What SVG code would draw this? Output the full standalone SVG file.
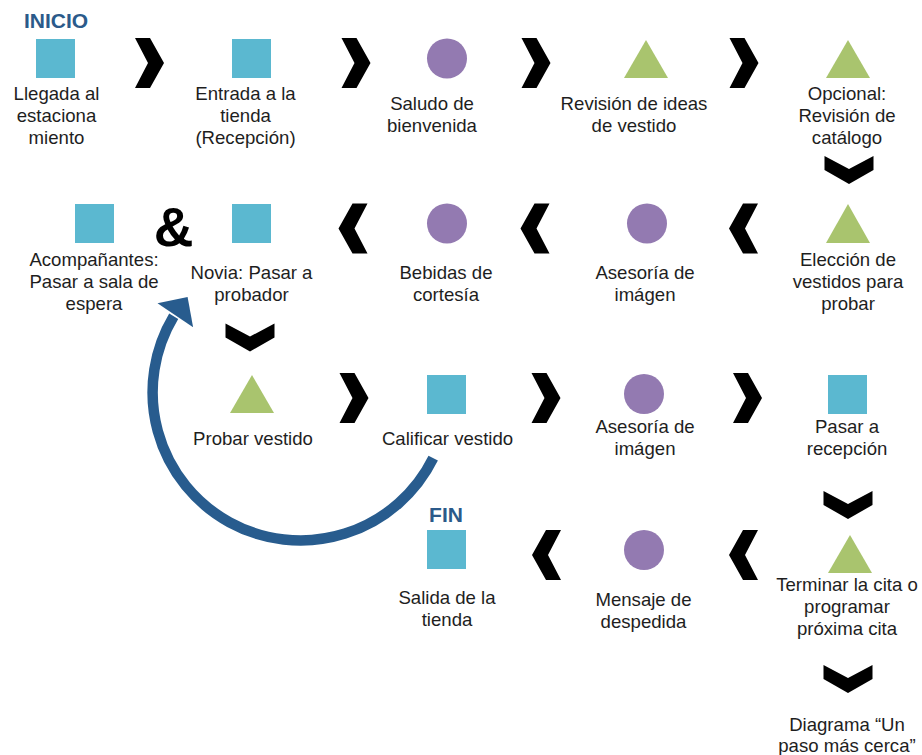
<svg xmlns="http://www.w3.org/2000/svg" width="922" height="755" viewBox="0 0 922 755">
<defs>
<style>
.t{font-family:"Liberation Sans",Arial,sans-serif;font-size:18.6px;fill:#1e1e1e;text-anchor:middle}
.h{font-family:"Liberation Sans",Arial,sans-serif;font-size:21px;font-weight:bold;fill:#2b5a8a;text-anchor:middle}
.sq{fill:#5bb8d0}
.ci{fill:#937ab1}
.tr{fill:#a9c46e}
.ch{fill:#000}
</style>
<polygon id="cr" points="-14.5,-25 0.5,-25 14.5,0 0.5,25 -14.5,25 -1.5,0"/>
<polygon id="cl" points="14.5,-25 -0.5,-25 -14.5,0 -0.5,25 14.5,25 1.5,0"/>
<polygon id="cd" points="-24.5,-14 0,-1 24.5,-14 24.5,0 0,14 -24.5,0"/>
</defs>
<rect width="922" height="755" fill="#fff"/>

<g id="connectors">
<g class="ch">
<use href="#cr" x="149.5" y="63"/>
<use href="#cr" x="356" y="63"/>
<use href="#cr" x="536" y="63"/>
<use href="#cr" x="744" y="63"/>
<use href="#cd" x="849" y="170"/>
<use href="#cl" x="353" y="228.5"/>
<use href="#cl" x="535" y="228.5"/>
<use href="#cl" x="743.5" y="228.5"/>
<use href="#cd" x="250" y="337.5"/>
<use href="#cr" x="354" y="398"/>
<use href="#cr" x="546" y="398"/>
<use href="#cr" x="747.5" y="398"/>
<use href="#cd" x="848" y="505"/>
<use href="#cl" x="546.5" y="555"/>
<use href="#cl" x="743.5" y="555"/>
<use href="#cd" x="848" y="679"/>
</g>
<g id="loop">
<path d="M433.2,458.2 A148,148 0 1 1 173.7,316.3" fill="none" stroke="#285c8e" stroke-width="10.5"/>
<polygon points="187.6,297 157.5,303.2 193.1,327.2" fill="#285c8e"/>
</g>
</g>

<text class="h" x="56" y="28">INICIO</text>

<g id="n1"><rect class="sq" x="36" y="39" width="39" height="39"/>
<text class="t"><tspan x="56.5" y="100">Llegada al</tspan><tspan x="56.5" y="122">estaciona</tspan><tspan x="56.5" y="144">miento</tspan></text></g>

<g id="n2"><rect class="sq" x="232" y="39" width="39" height="39"/>
<text class="t"><tspan x="245.5" y="100">Entrada a la</tspan><tspan x="245.5" y="122">tienda</tspan><tspan x="245.5" y="144">(Recepción)</tspan></text></g>

<g id="n3"><circle class="ci" cx="447" cy="58.5" r="20"/>
<text class="t"><tspan x="432" y="110">Saludo de</tspan><tspan x="432" y="132">bienvenida</tspan></text></g>

<g id="n4"><polygon class="tr" points="646,40 668,78 624,78"/>
<text class="t"><tspan x="634" y="110">Revisión de ideas</tspan><tspan x="634" y="132">de vestido</tspan></text></g>

<g id="n5"><polygon class="tr" points="848,40 870,78 826,78"/>
<text class="t"><tspan x="847" y="100">Opcional:</tspan><tspan x="847" y="122">Revisión de</tspan><tspan x="847" y="144">catálogo</tspan></text></g>

<g id="n6"><polygon class="tr" points="848,204 870,243 826,243"/>
<text class="t"><tspan x="848" y="266">Elección de</tspan><tspan x="848" y="288">vestidos para</tspan><tspan x="848" y="310">probar</tspan></text></g>

<g id="n7"><circle class="ci" cx="647" cy="223.5" r="20"/>
<text class="t"><tspan x="645" y="279">Asesoría de</tspan><tspan x="645" y="301">imágen</tspan></text></g>

<g id="n8"><circle class="ci" cx="447" cy="223.5" r="20"/>
<text class="t"><tspan x="446" y="279">Bebidas de</tspan><tspan x="446" y="301">cortesía</tspan></text></g>

<g id="n9"><rect class="sq" x="232" y="204" width="39" height="39"/>
<text class="t"><tspan x="251.5" y="279">Novia: Pasar a</tspan><tspan x="251.5" y="301">probador</tspan></text></g>

<g id="amp"><text x="173.5" y="246" font-family="'Liberation Sans',Arial,sans-serif" font-size="55" font-weight="bold" fill="#000" text-anchor="middle">&amp;</text></g>

<g id="n10"><rect class="sq" x="75" y="204" width="39" height="39"/>
<text class="t"><tspan x="94" y="266">Acompañantes:</tspan><tspan x="94" y="288">Pasar a sala de</tspan><tspan x="94" y="310">espera</tspan></text></g>

<g id="n11"><polygon class="tr" points="252,375 274,413 230,413"/>
<text class="t"><tspan x="253" y="445">Probar vestido</tspan></text></g>

<g id="n12"><rect class="sq" x="427" y="375" width="39" height="39"/>
<text class="t"><tspan x="447.5" y="445">Calificar vestido</tspan></text></g>

<g id="n13"><circle class="ci" cx="644" cy="394" r="20"/>
<text class="t"><tspan x="645" y="433">Asesoría de</tspan><tspan x="645" y="455">imágen</tspan></text></g>

<g id="n14"><rect class="sq" x="828" y="375" width="39" height="39"/>
<text class="t"><tspan x="847" y="433">Pasar a</tspan><tspan x="847" y="455">recepción</tspan></text></g>

<g id="n15"><polygon class="tr" points="850,535 872,573 828,573"/>
<text class="t"><tspan x="847" y="591">Terminar la cita o</tspan><tspan x="847" y="613">programar</tspan><tspan x="847" y="635">próxima cita</tspan></text></g>

<g id="n16"><circle class="ci" cx="644" cy="550" r="20"/>
<text class="t"><tspan x="643.5" y="606">Mensaje de</tspan><tspan x="643.5" y="628">despedida</tspan></text></g>

<text class="h" x="446" y="522">FIN</text>
<g id="n17"><rect class="sq" x="427" y="530" width="39" height="39"/>
<text class="t"><tspan x="447" y="604">Salida de la</tspan><tspan x="447" y="626">tienda</tspan></text></g>

<g id="n18"><text class="t"><tspan x="847" y="731">Diagrama “Un</tspan><tspan x="847" y="752">paso más cerca”</tspan></text></g>
</svg>
